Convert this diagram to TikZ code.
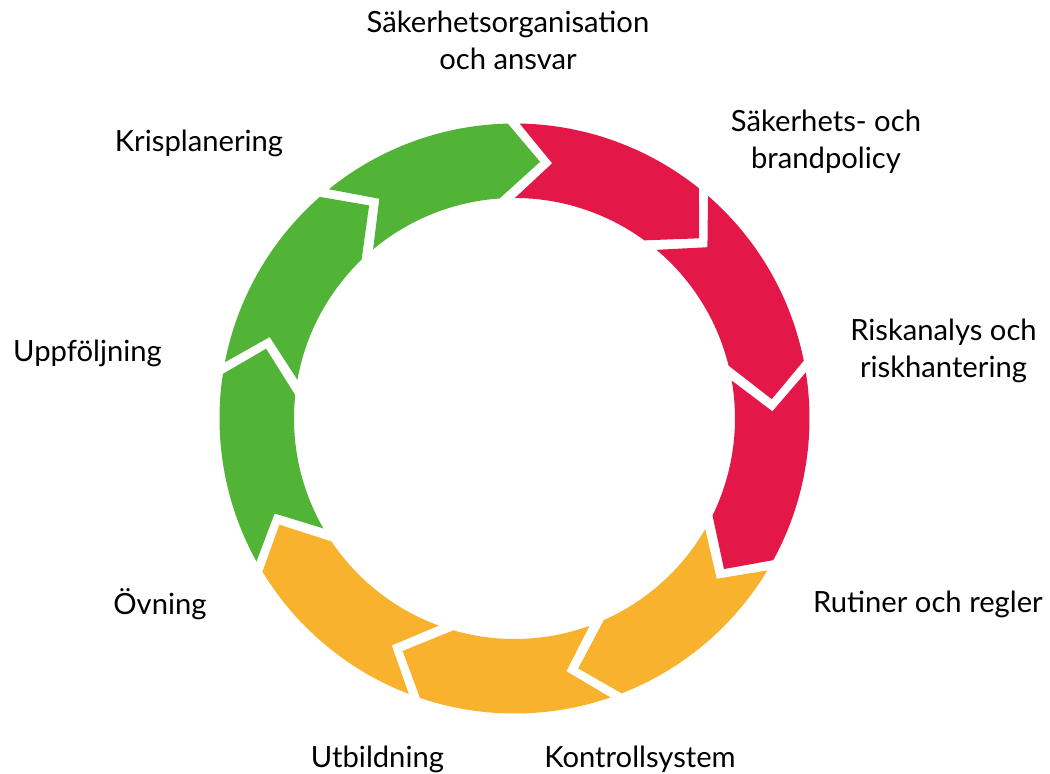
\documentclass[tikz,border=0pt]{standalone}
\usepackage{fontspec}
\setmainfont{Lato}
\definecolor{segred}{HTML}{E31748}
\definecolor{segorange}{HTML}{F8B22D}
\definecolor{seggreen}{HTML}{52B436}
\begin{document}
\begin{tikzpicture}[x=1pt,y=1pt,
  lbl/.style={font=\fontsize{29.2}{37}\selectfont, align=center, anchor=base, inner sep=0pt}]
\useasboundingbox (-514.5,-355.5) rectangle (535.5,418.5);
\foreach \k/\c in {0/segred,1/segred,2/segred,3/segorange,4/segorange,5/segorange,6/seggreen,7/seggreen,8/seggreen}{
  \pgfmathsetmacro\t{84.3-40*\k}
  \pgfmathsetmacro\p{\t-40}
  \fill[\c] ({\t+4.7}:295) arc[start angle={\t+4.7}, end angle={\p+7.0}, radius=295pt]
     -- (\p:258) -- ({\p+9.6}:220.5)
     arc[start angle={\p+9.6}, end angle={\t+5.6}, radius=220.5pt]
     -- ({\t-2.7}:258) -- cycle;
}
\node[lbl] (l1) at (-6.5,348.5) {Säkerhetsorganisation\\och ansvar};
\node[lbl] (l2) at (311.5,249.5) {Säkerhets- och\\brandpolicy};
\node[lbl] (l3) at (429,41.5) {Riskanalys och\\riskhantering};
\node[lbl] (l4) at (413.5,-193.5) {Rutiner och regler};
\node[lbl] (l5) at (125.5,-348.5) {Kontrollsystem};
\node[lbl] (l6) at (-137,-348.5) {Utbildning};
\node[lbl] (l7) at (-354.5,-195.5) {Övning};
\node[lbl] (l8) at (-427,56.5) {Uppföljning};
\node[lbl] (l9) at (-315.5,266.5) {Krisplanering};
\end{tikzpicture}
\end{document}
